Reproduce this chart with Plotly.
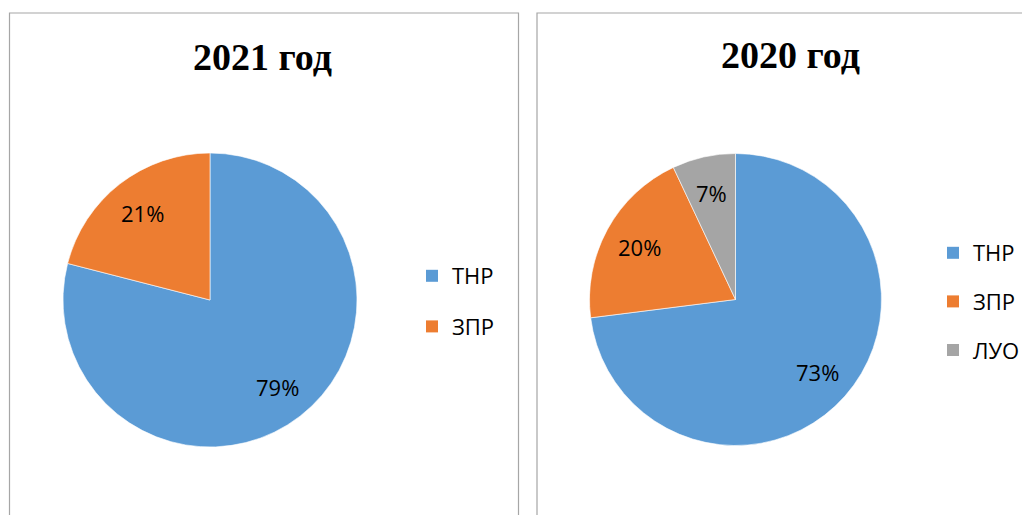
import math
import plotly.graph_objects as go

# page body has an 8px margin: the figure starts at (8, 8) in the window
OX, OY = 8, 8
W, H = 1030 - OX, 515 - OY

labels_2021 = ["ТНР", "ЗПР"]
values_2021 = [79, 21]
labels_2020 = ["ТНР", "ЗПР", "ЛУО"]
values_2020 = [73, 20, 7]
colors = {"ТНР": "#5B9BD5", "ЗПР": "#ED7D31", "ЛУО": "#A5A5A5"}
titles = ["2021 год", "2020 год"]

SANS = "Open Sans, Noto Sans, sans-serif"
SERIF = "Liberation Serif, Times New Roman, serif"


def px_x(x):
    return (x - OX) / W


def px_y(y):
    return (515 - y) / H


fig = go.Figure()
annotations = []


def add_pie(labels, values, cx, cy, r):
    fig.add_trace(go.Pie(
        labels=labels, values=values, sort=False, direction="clockwise", rotation=0,
        marker=dict(colors=[colors[l] for l in labels], line=dict(color="#ffffff", width=0.6)),
        textinfo="none",
        domain=dict(x=[px_x(cx - r), px_x(cx + r)], y=[px_y(cy + r), px_y(cy - r)]),
        showlegend=False, hoverinfo="label+percent",
    ))
    # data labels on the slice bisector, like the source (about 3/4 of the radius)
    total = float(sum(values))
    cum = 0.0
    for v in values:
        mid = (cum + v / 2.0) / total
        cum += v
        th = 2 * math.pi * mid
        lx = cx + 0.75 * r * math.sin(th)
        ly = cy - 0.75 * r * math.cos(th)
        annotations.append(dict(
            text="%d%%" % round(100 * v / total), x=px_x(lx), y=px_y(ly),
            xref="paper", yref="paper", showarrow=False, xanchor="center", yanchor="middle",
            font=dict(family=SANS, size=22, color="#000000")))


add_pie(labels_2021, values_2021, 210, 300, 147)
add_pie(labels_2020, values_2020, 735.5, 299.5, 146)

# legends via marker-only traces
for lab in labels_2021:
    fig.add_trace(go.Scatter(x=[None], y=[None], mode="markers", name=lab, legend="legend",
                             legendgroup="a" + lab,
                             marker=dict(symbol="square", size=14, color=colors[lab])))
for lab in labels_2020:
    fig.add_trace(go.Scatter(x=[None], y=[None], mode="markers", name=lab, legend="legend2",
                             legendgroup="b" + lab,
                             marker=dict(symbol="square", size=14, color=colors[lab])))

leg_font = dict(family=SANS, size=22, color="#000000")

for i, (t, tx, ty) in enumerate([(titles[0], 262, 57), (titles[1], 790, 55)]):
    annotations.append(dict(text="<b>%s</b>" % t, x=px_x(tx), y=px_y(ty), xref="paper", yref="paper",
                            showarrow=False, xanchor="center", yanchor="middle",
                            font=dict(family=SERIF, size=38, color="#000")))

fig.update_layout(
    width=W, height=H, margin=dict(l=0, r=0, t=0, b=0),
    paper_bgcolor="white", plot_bgcolor="white",
    xaxis=dict(visible=False), yaxis=dict(visible=False),
    legend=dict(x=px_x(412), y=px_y(255), xanchor="left", yanchor="top", font=leg_font,
                tracegroupgap=19, bgcolor="rgba(0,0,0,0)", itemsizing="constant"),
    legend2=dict(x=px_x(933), y=px_y(232), xanchor="left", yanchor="top", font=leg_font,
                 tracegroupgap=17, bgcolor="rgba(0,0,0,0)", itemsizing="constant"),
    shapes=[
        dict(type="rect", xref="paper", yref="paper", x0=px_x(9.5), x1=px_x(518.5),
             y0=-0.05, y1=px_y(13), line=dict(color="#a6a6a6", width=1.2)),
        dict(type="rect", xref="paper", yref="paper", x0=px_x(537), x1=1.05,
             y0=-0.05, y1=px_y(13), line=dict(color="#a6a6a6", width=1.2)),
    ],
    annotations=annotations,
)

fig.write_html("out.html")
